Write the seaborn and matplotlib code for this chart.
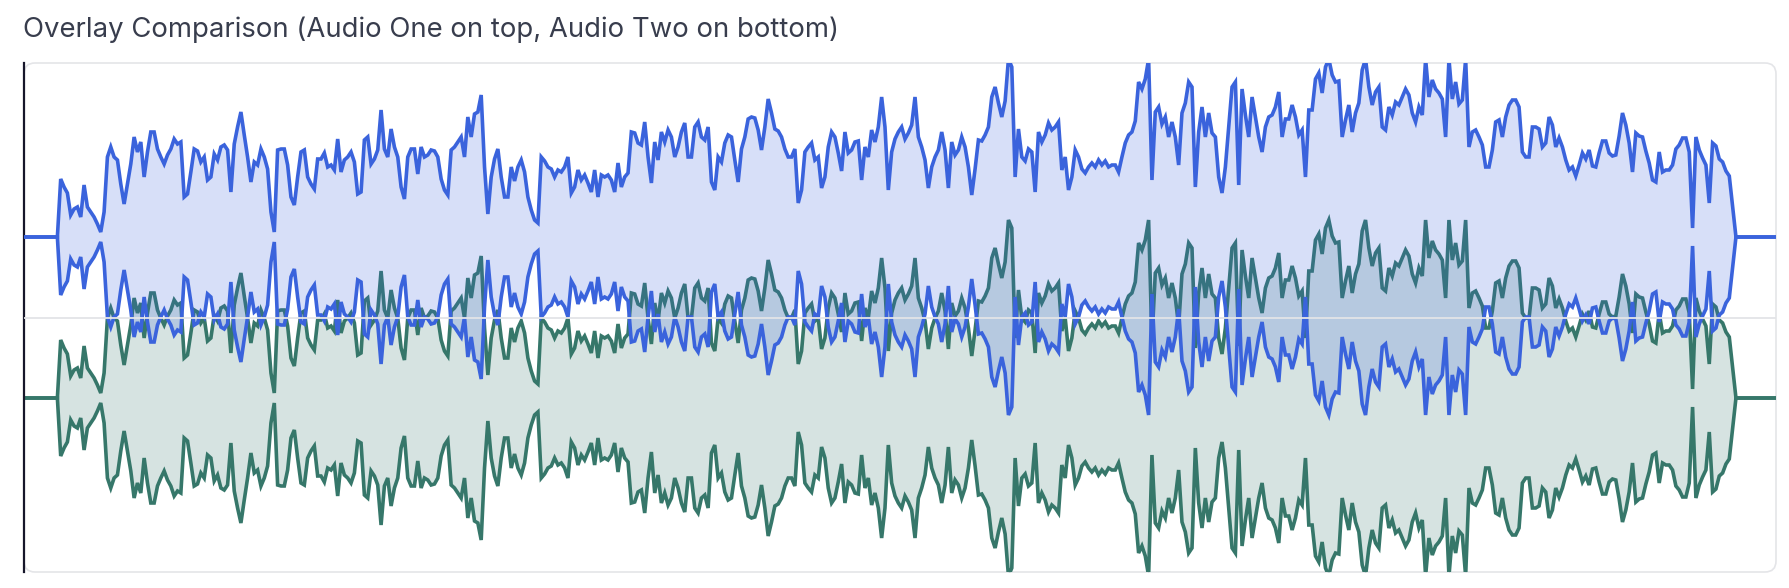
import numpy as np
import pandas as pd
import matplotlib
matplotlib.use("Agg")
import matplotlib.pyplot as plt
from matplotlib.patches import FancyBboxPatch
import seaborn as sns

sns.set_theme(style="white")
plt.rcParams["font.family"] = ["Inter", "DejaVu Sans"]

TITLE = "Overlay Comparison (Audio One on top, Audio Two on bottom)"

# peak level per frame (174 = edge of the lane)
audio_one_peaks = [
    0, 0, 0, 0, 0, 0, 0, 0, 0, 0,
    0, 58, 50, 44, 22, 28, 30, 20, 52, 30, 25, 20, 13, 5, 25, 80, 90, 80, 77, 53,
    33, 53, 73, 100, 85, 95, 60, 85, 105, 105, 88, 80, 73, 82, 88, 98, 93, 95, 40, 43,
    65, 88, 86, 75, 80, 57, 60, 83, 77, 90, 92, 87, 45, 93, 110, 125, 102, 80, 55, 75,
    72, 88, 80, 68, 25, 5, 87,
    88, 88, 72, 40, 32, 60, 85, 87, 60, 53, 48, 78, 78, 84, 70, 72, 67, 98, 65, 77,
    80, 85, 75, 43, 45, 97, 100, 73, 78, 87, 127, 88, 80, 108, 90, 80, 50, 38, 80, 88,
    88, 63, 90, 80, 82, 87, 86, 80, 58, 47, 42, 87, 90, 95, 100, 80, 120, 100, 123, 125,
    142, 70, 23, 60, 78, 88, 60, 40, 40, 70, 56, 70, 77, 65, 40,
    27, 17, 14, 80, 76, 70, 68, 60, 67, 65, 70, 80, 44, 50, 67, 57, 62, 54, 45, 67,
    40, 62, 60, 62, 57, 45, 74, 50, 60, 64, 105, 104, 94, 92, 115, 80, 54, 95, 77, 105,
    95, 107, 100, 80, 90, 105, 114, 80, 80, 110, 115, 100, 97, 110, 55, 47, 80, 75, 94, 102,
    100, 77, 55, 88, 100, 118, 120, 119, 107, 87, 110, 138, 124, 108, 106, 100, 88, 80,
    80, 88, 34, 47, 85, 90, 94, 77, 80, 49, 60, 90, 105, 100, 84, 66, 105, 84, 87, 95,
    96, 57, 90, 80, 107, 95, 110, 140, 110, 47, 85, 98, 105, 110, 98, 104, 112, 140, 100, 90,
    77, 49, 70, 80, 87, 105, 87, 49, 95, 82, 87, 100, 90, 70, 42, 68, 97, 96, 102, 110,
    140, 150, 134, 120, 136, 178, 170, 60, 108, 80, 76, 88, 85, 45, 105, 95, 102, 114,
    107, 110, 115, 67, 80, 47, 60, 87, 80, 68, 64, 70, 74, 70, 77, 72, 76, 70, 72, 72,
    65, 80, 94, 102, 105, 116, 155, 148, 158, 178, 57, 125, 130, 113, 120, 100, 115, 100, 72, 124,
    134, 155, 150, 50, 105, 130, 100, 124, 104, 100, 60, 44, 70, 110, 150, 155, 52, 148, 122, 100,
    140, 120, 100, 85, 110, 120, 122, 130, 145, 100, 118, 118, 132, 120, 102, 107, 60, 127,
    127, 158, 164, 144, 170, 178, 162, 155, 156, 100, 117, 132, 105, 124, 134, 167, 178, 150, 132, 145,
    150, 110, 107, 130, 122, 135, 132, 140, 148, 142, 124, 115, 130, 122, 178, 140, 157, 148, 144, 138,
    100, 178, 138, 155, 133, 137, 178, 90, 105, 107, 100, 92, 70, 70, 87, 115, 117, 100, 120, 132,
    137, 137, 130, 85, 80, 80, 110, 110, 108, 90, 94, 120, 112, 90, 99, 90, 77, 67,
    70, 61, 72, 84, 78, 87, 71, 70, 84, 96, 96, 84, 81, 82, 101, 124, 112, 94, 65, 104,
    101, 100, 86, 74, 57, 55, 85, 65, 67, 67, 72, 88, 92, 99, 99, 85, 9, 100, 87, 79,
    72, 34, 94, 91, 78, 75, 66, 61, 30, 0,
    0, 0, 0, 0, 0, 0, 0, 0, 0, 0, 0, 0,
]
# the lower track reads the same, frame for frame
audio_two_peaks = list(audio_one_peaks)

tracks = ["Audio One", "Audio Two"]
track_colors = {"Audio One": "#3a63dc", "Audio Two": "#36776a"}
FULL_SCALE = 174.0
LANE = 80.5 / FULL_SCALE          # distance of each lane centre from the middle
lane_centre = {"Audio One": LANE, "Audio Two": -LANE}

W, H, DPI = 1789, 588, 100
fig = plt.figure(figsize=(W / DPI, H / DPI), dpi=DPI)

# card around the canvas
card = FancyBboxPatch((24 / DPI, 16 / DPI), 1752 / DPI, 509 / DPI,
                      boxstyle="round,pad=0,rounding_size=0.11",
                      transform=fig.dpi_scale_trans, facecolor="white",
                      edgecolor="#e4e5e8", linewidth=1.2, zorder=-5)
fig.patches.append(card)

ax = fig.add_axes([24 / W, 16 / H, 1752 / W, 509 / H])
ax.set_zorder(2)
ax.patch.set_alpha(0)

rows = []
for name, peaks in zip(tracks, [audio_one_peaks, audio_two_peaks]):
    amp = np.array(peaks, dtype=float) / FULL_SCALE
    frames = np.arange(len(amp))
    c = lane_centre[name]
    for edge, sign in (("upper", 1), ("lower", -1)):
        rows.append(pd.DataFrame({"frame": frames, "level": c + sign * amp,
                                  "track": name, "edge": name + " " + edge}))
df = pd.concat(rows, ignore_index=True)

# lower track first so the upper one sits over it where they overlap
for z, name in enumerate(reversed(tracks)):
    sub = df[df["track"] == name]
    up = sub[sub["edge"].str.endswith("upper")]
    lo = sub[sub["edge"].str.endswith("lower")]
    ax.fill_between(up["frame"].values, lo["level"].values, up["level"].values,
                    color=track_colors[name], alpha=0.2, lw=0, zorder=1 + 2 * z)
    sns.lineplot(data=sub, x="frame", y="level", units="edge", estimator=None,
                 color=track_colors[name], lw=2.6, ax=ax, legend=False,
                 solid_joinstyle="miter", zorder=2 + 2 * z)

ax.axhline(0, color="#e3e4e7", lw=1.3, zorder=10)

n = len(audio_one_peaks)
ax.set_xlim(0, n - 1)
ax.set_ylim(-(1 + LANE), 1 + LANE)
ax.set_xticks([])
ax.set_yticks([])
ax.set_xlabel("")
ax.set_ylabel("")
for side in ("top", "right", "bottom"):
    ax.spines[side].set_visible(False)
ax.spines["left"].set_color("#16162a")
ax.spines["left"].set_linewidth(1.6)

fig.text(23 / W, 1 - 37 / H, TITLE, fontsize=19.8, color="#383d4d",
         ha="left", va="baseline")

fig.savefig("out.png", dpi=DPI)
